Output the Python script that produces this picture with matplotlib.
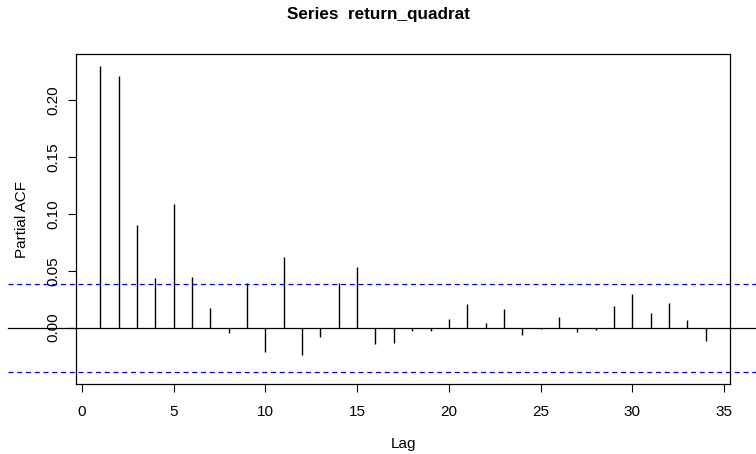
import numpy as np
import matplotlib
matplotlib.use("Agg")
import matplotlib.pyplot as plt

plt.rcParams['font.family'] = ['Liberation Sans', 'DejaVu Sans']

# partial autocorrelation values, lags 1..34
lags = list(range(1, 35))
pacf = [0.230, 0.2216, 0.0906, 0.0439, 0.109, 0.0444, 0.0169, -0.0044,
        0.0389, -0.0214, 0.0623, -0.024, -0.0082, 0.0389, 0.0538, -0.0144,
        -0.0138, -0.003, -0.003, 0.0079, 0.0207, 0.004, 0.016, -0.0061,
        -0.001, 0.0093, -0.0039, -0.002, 0.0193, 0.030, 0.0131, 0.0216,
        0.0064, -0.0114]
clim = 0.0388
title = "Series  return_quadrat"

fig = plt.figure(figsize=(7.56, 4.54), dpi=100)
ax = fig.add_axes([76/756, 1-384/454, 654/756, 330/454])

ax.vlines(lags, 0, pacf, color='black', lw=1.0)

# lines span the whole plot region like R's abline
x0 = (8-76)/654
x1 = (756-76)/654
ax.axhline(0, xmin=x0, xmax=x1, color='black', lw=0.9, clip_on=False)
for c in (clim, -clim):
    ax.axhline(c, xmin=x0, xmax=x1, color='blue', lw=0.9,
               ls=(0, (4, 3)), clip_on=False)

ax.set_xlim(-0.32, 35.32)
ax.set_ylim(-0.0496, 0.2408)
ax.set_xticks(range(0, 36, 5))
ax.set_yticks([0.0, 0.05, 0.10, 0.15, 0.20])
ax.set_yticklabels(['0.00', '0.05', '0.10', '0.15', '0.20'], rotation=90,
                   va='center')
ax.tick_params(labelsize=11, length=6, width=0.8, direction='out')
ax.tick_params(axis='x', pad=9)
ax.tick_params(axis='y', pad=5.5)

for s in ax.spines.values():
    s.set_linewidth(0.9)

ax.set_xlabel("Lag", fontsize=11, labelpad=13)
ax.set_ylabel("Partial ACF", fontsize=11, labelpad=12)
fig.text(0.5, 1-15/454, title, ha='center', va='center',
         fontsize=12.3, fontweight='bold')

fig.savefig("out.png", dpi=100)
